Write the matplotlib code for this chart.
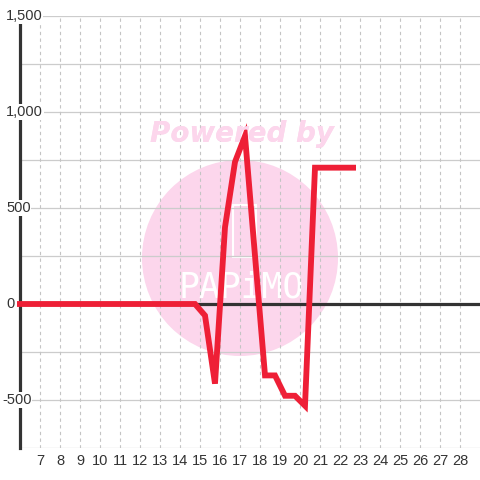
import matplotlib
matplotlib.use("Agg")
import matplotlib.pyplot as plt
from matplotlib.patches import Circle, Rectangle

# ---- data ----
x_vals = [5.85, 14.75, 15.25, 15.75, 16.25, 16.75, 17.25, 18.25, 18.75, 19.25, 19.75, 20.25, 20.75, 22.8]
y_vals = [0, 0, -60, -415, 400, 740, 875, -372, -372, -478, -478, -530, 710, 710]
x_ticks = list(range(7, 29))
x_tick_labels = [str(t) for t in x_ticks]
y_ticks = [1500, 1000, 500, 0, -500]
y_tick_labels = ["1,500", "1,000", "500", "0", "-500"]
y_minor = [1250, 750, 250, -250, -750]

plt.rcParams['font.family'] = ['Liberation Sans', 'DejaVu Sans']

W = H = 480
fig = plt.figure(figsize=(4.8, 4.8), dpi=100)
fig.patch.set_facecolor('white')
ax = fig.add_axes([20 / W, 1 - 448 / H, 460 / W, 432 / H])
ax.set_xlim(6, 29)
ax.set_ylim(-750, 1500)
for s in ax.spines.values():
    s.set_visible(False)

# gridlines
for v in y_ticks + y_minor:
    if v != 0:
        ax.axhline(v, color='#cccccc', lw=0.9, zorder=1)
for t in x_ticks:
    ax.axvline(t, color='#c4c4c4', lw=0.8, ls=(0, (3, 3)), zorder=1)

# watermark
ax.add_patch(Circle((240 / W, 1 - 258 / H), 98 / W, transform=fig.transFigure,
                    facecolor='#fcd6ec', edgecolor='none', zorder=0.5))
ax.add_patch(Rectangle((233 / W, 1 - 257 / H), 23 / W, 52 / H, transform=fig.transFigure,
                       facecolor='none', edgecolor='white', lw=1.5, zorder=0.6))
fig.text(241 / W, 1 - 287 / H, "PAPiMO", color='white', fontsize=25,
         family='DejaVu Sans Mono', ha='center', va='center', zorder=0.6)
fig.text(242 / W, 1 - 134 / H, "Powered by", color='#fcd6ec', fontsize=20,
         family='DejaVu Sans', fontweight='bold', fontstyle='italic',
         ha='center', va='center', zorder=0.6)
# move watermark texts below the axes content
for t in fig.texts:
    t.remove()
ax.text(241 / W, 1 - 287 / H, "PAPiMO", color='white', fontsize=25,
        family='DejaVu Sans Mono', ha='center', va='center', zorder=0.6,
        transform=fig.transFigure)
ax.text(242 / W, 1 - 134 / H, "Powered by", color='#fcd6ec', fontsize=20,
        family='DejaVu Sans', fontweight='bold', fontstyle='italic',
        ha='center', va='center', zorder=0.6, transform=fig.transFigure)

# axes lines
ax.axhline(0, color='#333333', lw=2.3, zorder=2)
ax.axvline(6, color='#333333', lw=2.3, zorder=2, clip_on=False)

# data line
ax.plot(x_vals, y_vals, color='#ee1f36', lw=4.2, zorder=3, clip_on=False,
        solid_joinstyle='miter', solid_capstyle='butt')

# x tick labels
ax.set_xticks(x_ticks)
ax.set_xticklabels(x_tick_labels)
ax.set_yticks([])
ax.tick_params(axis='x', length=0, pad=4, labelsize=10.5, labelcolor='#333333')

# y tick labels with white background
for v, lab in zip(y_ticks, y_tick_labels):
    py = ax.transData.transform((6, v))[1]
    px = 6 - (4 if lab.startswith('-') else 0)
    fig.text(px / W, py / H, lab, fontsize=10.5, color='#333333', ha='left', va='center',
             bbox=dict(facecolor='white', edgecolor='none', pad=0.5), zorder=5)

fig.savefig('out.png', dpi=100, facecolor='white')
